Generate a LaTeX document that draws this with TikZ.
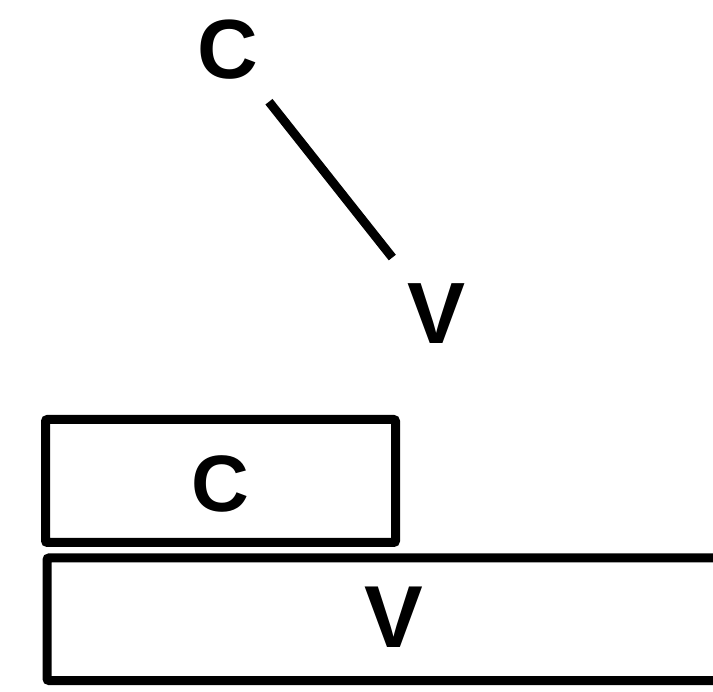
\documentclass[tikz,border=0pt]{standalone}
\usepackage{fontspec}
\setmainfont{Liberation Sans}
\begin{document}
\begin{tikzpicture}[x=1pt,y=-1pt,
  lbl/.style={inner sep=0pt,font=\bfseries\fontsize{#1}{#1}\selectfont},
  boxnode/.style={draw,line width=9pt,rounded corners=2pt,inner sep=0pt,outer sep=0pt,anchor=north west}]
\useasboundingbox (0,0) rectangle (713,692);
\clip (0,0) rectangle (713,692);
\node[lbl=84] (c1) at (228,50) {C};
\node[lbl=87] (v1) at (437,314) {V};
\draw[line width=9pt,shorten <=66pt,shorten >=72pt] (c1.center) -- (v1.center);
\node[boxnode,minimum width=350pt,minimum height=123pt] (cbox) at (45.5,419.5) {};
\node[lbl=80] (ctext) at (220.5,483.5) {C};
\node[boxnode,minimum width=700pt,minimum height=122.5pt] (vbox) at (47,558) {};
\node[lbl=88] (vtext) at (393.5,617.5) {V};
\end{tikzpicture}
\end{document}
